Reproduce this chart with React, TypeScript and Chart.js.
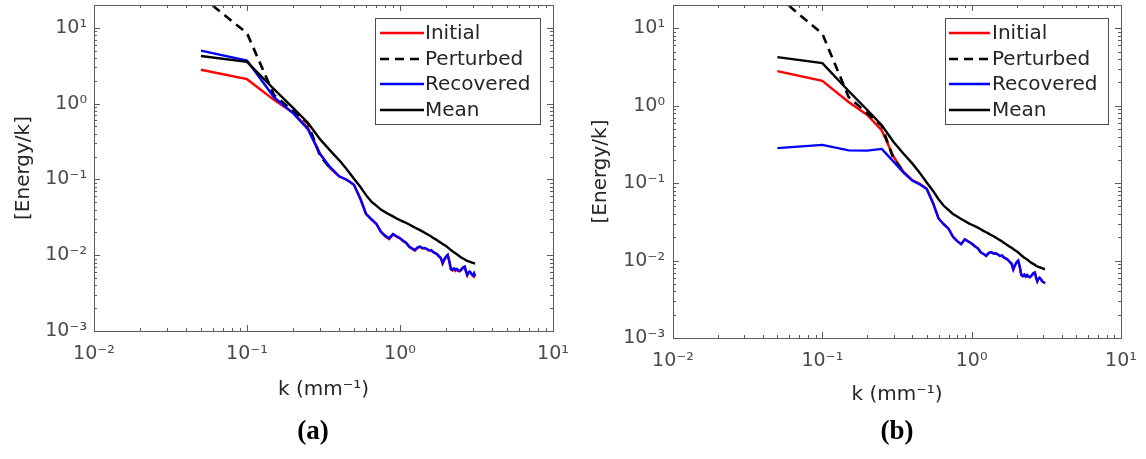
import React, { useEffect, useRef } from 'react';
import { Chart, registerables } from 'chart.js';

Chart.register(...registerables);

// ---------- data ----------
const kValues = [
  0.05, 0.1, 0.15, 0.2, 0.25, 0.3, 0.35, 0.4, 0.45, 0.5,
  0.55, 0.6, 0.65, 0.7, 0.75, 0.8, 0.85, 0.9, 0.95, 1.0,
  1.05, 1.1, 1.15, 1.2, 1.25, 1.3, 1.35, 1.4, 1.45, 1.5,
  1.55, 1.6, 1.65, 1.7, 1.75, 1.8, 1.85, 1.9, 1.95, 2.0,
  2.05, 2.1, 2.15, 2.2, 2.25, 2.3, 2.35, 2.4, 2.45, 2.5,
  2.55, 2.6, 2.65, 2.7, 2.75, 2.8, 2.85, 2.9, 2.95, 3.0,
  3.05, 3.1,
];

const initialValues = [
  2.8, 2.1, 1.12, 0.76, 0.48, 0.22, 0.14, 0.11, 0.098, 0.085,
  0.056, 0.035, 0.0295, 0.0258, 0.0203, 0.0178, 0.0163, 0.0188, 0.0176, 0.0166,
  0.0153, 0.0144, 0.0128, 0.0122, 0.0115, 0.0125, 0.0129, 0.0123, 0.0124, 0.012,
  0.0115, 0.0116, 0.0109, 0.0106, 0.0102, 0.0096, 0.0091, 0.0077, 0.0087, 0.0095,
  0.01, 0.0083, 0.0065, 0.0063, 0.0066, 0.0062, 0.0065, 0.0062, 0.0061, 0.0063,
  0.0066, 0.0069, 0.007, 0.006, 0.0054, 0.0058, 0.006, 0.0058, 0.0055, 0.0053,
  0.0052, 0.0051,
];

const perturbedValues = [
  26, 8.5, 1.3, 0.8, 0.55, 0.205, 0.14, null, null, null,
  null, null, null, null, null, null, null, null, null, null,
  null, null, null, null, null, null, null, null, null, null,
  null, null, null, null, null, null, null, null, null, null,
  null, null, null, null, null, null, null, null, null, null,
  null, null, null, null, null, null, null, null, null, null,
  null, null,
];

const recoveredValuesA = [
  5.0, 3.7, 1.22, 0.75, 0.46, 0.215, 0.145, 0.11, 0.099, 0.085,
  0.056, 0.035, 0.03, 0.026, 0.0205, 0.018, 0.0168, 0.019, 0.0178, 0.0168,
  0.0155, 0.0145, 0.013, 0.0123, 0.0117, 0.0126, 0.013, 0.0124, 0.0125, 0.0121,
  0.0116, 0.0117, 0.011, 0.0107, 0.0103, 0.0097, 0.0092, 0.0079, 0.0088, 0.0096,
  0.0101, 0.0084, 0.0066, 0.0064, 0.0067, 0.0065, 0.0066, 0.0063, 0.0062, 0.0064,
  0.0067, 0.007, 0.0071, 0.0061, 0.0055, 0.0059, 0.0061, 0.0059, 0.0056, 0.0054,
  0.0058, 0.0053,
];

const recoveredValuesB = [
  0.283, 0.312, 0.265, 0.263, 0.277, 0.19, 0.137, 0.108, 0.096, 0.084,
  0.056, 0.035, 0.0295, 0.0258, 0.0203, 0.0178, 0.0163, 0.0188, 0.0176, 0.0166,
  0.0153, 0.0144, 0.0128, 0.0122, 0.0115, 0.0125, 0.0129, 0.0123, 0.0124, 0.012,
  0.0115, 0.0116, 0.0109, 0.0106, 0.0102, 0.0096, 0.0091, 0.0077, 0.0087, 0.0095,
  0.01, 0.0083, 0.0065, 0.0063, 0.0066, 0.0062, 0.0065, 0.0062, 0.0061, 0.0063,
  0.0066, 0.0069, 0.007, 0.006, 0.0054, 0.0058, 0.006, 0.0058, 0.0055, 0.0053,
  0.0052, 0.0051,
];

const meanValues = [
  4.25, 3.55, 1.55, 0.88, 0.56, 0.34, 0.24, 0.18, 0.135, 0.102,
  0.08, 0.062, 0.051, 0.045, 0.04, 0.037, 0.0345, 0.0325, 0.0305, 0.029,
  0.0278, 0.0266, 0.0254, 0.0242, 0.0232, 0.0223, 0.0214, 0.0206, 0.0198, 0.019,
  0.0183, 0.0176, 0.0169, 0.0163, 0.0157, 0.0151, 0.0146, 0.0141, 0.0136, 0.0132,
  0.0127, 0.0122, 0.0117, 0.0113, 0.0109, 0.0106, 0.0103, 0.01, 0.0097, 0.0094,
  0.0092, 0.009, 0.0088, 0.0086, 0.0084, 0.0083, 0.0082, 0.0081, 0.008, 0.0079,
  0.0078, 0.0078,
];

const xTickValues = [0.01, 0.1, 1, 10];
const xTickLabels = ['10⁻²', '10⁻¹', '10⁰', '10¹'];
const yTickValues = [0.001, 0.01, 0.1, 1, 10];
const yTickLabels = ['10⁻³', '10⁻²', '10⁻¹', '10⁰', '10¹'];
const legendLabels = ['Initial', 'Perturbed', 'Recovered', 'Mean'];
const xAxisTitle = 'k (mm⁻¹)';
const yAxisTitle = '[Energy/k]';
const panelLabels = ['(a)', '(b)'];

// ---------- styles ----------
const W = 573;
const H = 459;
const FONT = '"DejaVu Sans", sans-serif';
const TICK_COLOR = '#4a4a4a';
const TEXT_COLOR = '#262626';
const FRAME_COLOR = '#5c5c5c';
const legendColors = ['#ff0000', '#000000', '#0000ff', '#000000'];
const legendDashes = [[], [9, 6], [], []];

type PanelProps = {
  left: number;
  recovered: number[];
  area: { left: number; right: number; top: number; bottom: number };
  legendBox: { x: number; y: number; w: number; h: number; lineX0: number; lineX1: number; textX: number; rows: number[] };
  label: string;
  labelX: number;
  yTitlePad: number;
  xTitlePad: number;
  yTickPad: number;
  xTickPad: number;
};

function toPoints(vals: (number | null)[]) {
  return kValues.map((k, i) => ({ x: k, y: vals[i] }));
}

function Panel(props: PanelProps) {
  const ref = useRef<HTMLCanvasElement | null>(null);
  useEffect(() => {
    const canvas = ref.current;
    if (!canvas) return;
    const { area, legendBox } = props;

    const framePlugin = {
      id: 'frameTicks',
      afterDatasetsDraw(chart: any) {
        const ctx = chart.ctx as CanvasRenderingContext2D;
        const { left, right, top, bottom } = chart.chartArea;
        const xs = chart.scales.x;
        const ys = chart.scales.y;
        ctx.save();
        ctx.strokeStyle = FRAME_COLOR;
        ctx.lineWidth = 1;
        ctx.beginPath();
        for (let d = -2; d <= 0; d++) {
          for (let m = 1; m <= 9; m++) {
            const v = m * Math.pow(10, d);
            const px = Math.round(xs.getPixelForValue(v)) + 0.5;
            const len = m === 1 ? 6 : 3;
            ctx.moveTo(px, bottom);
            ctx.lineTo(px, bottom - len);
            ctx.moveTo(px, top);
            ctx.lineTo(px, top + len);
          }
        }
        for (let d = -3; d <= 1; d++) {
          for (let m = 1; m <= 9; m++) {
            const v = m * Math.pow(10, d);
            if (v > 20) continue;
            const py = Math.round(ys.getPixelForValue(v)) + 0.5;
            const len = m === 1 ? 6 : 3;
            ctx.moveTo(left, py);
            ctx.lineTo(left + len, py);
            ctx.moveTo(right, py);
            ctx.lineTo(right - len, py);
          }
        }
        ctx.stroke();
        ctx.strokeRect(Math.round(left) + 0.5, Math.round(top) + 0.5, Math.round(right - left), Math.round(bottom - top));

        // legend
        const lb = legendBox;
        ctx.fillStyle = '#ffffff';
        ctx.fillRect(lb.x, lb.y, lb.w, lb.h);
        ctx.strokeStyle = '#4d4d4d';
        ctx.lineWidth = 1;
        ctx.strokeRect(lb.x + 0.5, lb.y + 0.5, lb.w, lb.h);
        ctx.font = `20px ${FONT}`;
        ctx.textBaseline = 'middle';
        ctx.textAlign = 'left';
        legendLabels.forEach((name, i) => {
          const y = lb.rows[i];
          ctx.beginPath();
          ctx.strokeStyle = legendColors[i];
          ctx.lineWidth = 2.5;
          ctx.setLineDash(legendDashes[i]);
          ctx.moveTo(lb.lineX0, y);
          ctx.lineTo(lb.lineX1, y);
          ctx.stroke();
          ctx.setLineDash([]);
          ctx.fillStyle = TEXT_COLOR;
          ctx.fillText(name, lb.textX, y + 1);
        });

        // panel label
        ctx.font = `bold 27px "Liberation Serif", "Times New Roman", serif`;
        ctx.fillStyle = '#000000';
        ctx.textAlign = 'center';
        ctx.textBaseline = 'middle';
        ctx.fillText(props.label, props.labelX, 432);
        ctx.restore();
      },
    };

    const chart = new Chart(canvas, {
      type: 'line',
      data: {
        datasets: [
          { label: 'Mean', data: toPoints(meanValues), borderColor: '#000000', borderWidth: 2.4, pointRadius: 0, tension: 0 },
          { label: 'Recovered', data: toPoints(props.recovered), borderColor: '#0000ff', borderWidth: 2.4, pointRadius: 0, tension: 0 },
          { label: 'Perturbed', data: toPoints(perturbedValues), borderColor: '#000000', borderWidth: 2.6, borderDash: [9, 6], pointRadius: 0, tension: 0 },
          { label: 'Initial', data: toPoints(initialValues), borderColor: '#ff0000', borderWidth: 2.4, pointRadius: 0, tension: 0 },
        ],
      } as any,
      options: {
        responsive: false,
        animation: false,
        devicePixelRatio: 1,
        events: [],
        layout: { padding: { left: 0, top: area.top, right: W - area.right, bottom: 0 } },
        plugins: { legend: { display: false }, tooltip: { enabled: false } },
        scales: {
          x: {
            type: 'logarithmic',
            position: 'bottom',
            min: 0.01,
            max: 10,
            grid: { display: false, drawTicks: false },
            border: { display: false },
            ticks: {
              autoSkip: false,
              maxRotation: 0,
              padding: props.xTickPad,
              color: TICK_COLOR,
              font: { family: FONT, size: 19 },
              callback: (_v: any, i: number) => xTickLabels[i],
            },
            title: {
              display: true,
              text: xAxisTitle,
              color: TEXT_COLOR,
              font: { family: FONT, size: 20 },
              padding: { top: 0, bottom: props.xTitlePad },
            },
            afterBuildTicks: (s: any) => {
              s.ticks = xTickValues.map((v) => ({ value: v }));
            },
            afterFit: (s: any) => {
              s.height = H - area.bottom;
              s.paddingLeft = 0;
              s.paddingRight = 0;
            },
          },
          y: {
            type: 'logarithmic',
            position: 'left',
            min: 0.001,
            max: 20,
            grid: { display: false, drawTicks: false },
            border: { display: false },
            ticks: {
              autoSkip: false,
              padding: props.yTickPad,
              color: TICK_COLOR,
              font: { family: FONT, size: 19 },
              callback: (_v: any, i: number) => yTickLabels[i],
            },
            title: {
              display: true,
              text: yAxisTitle,
              color: TEXT_COLOR,
              font: { family: FONT, size: 20 },
              padding: { top: props.yTitlePad, bottom: 0 },
            },
            afterBuildTicks: (s: any) => {
              s.ticks = yTickValues.map((v) => ({ value: v }));
            },
            afterFit: (s: any) => {
              s.width = area.left;
              s.paddingTop = 0;
              s.paddingBottom = 0;
            },
          },
        },
      } as any,
      plugins: [framePlugin],
    });
    return () => chart.destroy();
  }, []);

  return (
    <canvas
      ref={ref}
      width={W}
      height={H}
      style={{ position: 'absolute', left: props.left, top: 0, width: W, height: H }}
    />
  );
}

export default function App() {
  return (
    <div style={{ position: 'absolute', left: 0, top: 0, width: 1146, height: 459, background: '#ffffff', overflow: 'hidden' }}>
      <Panel
        left={0}
        recovered={recoveredValuesA}
        area={{ left: 94, right: 553, top: 5, bottom: 331 }}
        legendBox={{ x: 375, y: 18, w: 165, h: 106, lineX0: 380, lineX1: 424, textX: 425, rows: [33, 59, 84, 110] }}
        label={panelLabels[0]}
        labelX={313}
        yTitlePad={12}
        xTitlePad={57}
        yTickPad={7}
        xTickPad={12}
      />
      <Panel
        left={573}
        recovered={recoveredValuesB}
        area={{ left: 100, right: 548, top: 5, bottom: 338 }}
        legendBox={{ x: 372, y: 18, w: 163, h: 106, lineX0: 376, lineX1: 417, textX: 419, rows: [33, 59, 84, 110] }}
        label={panelLabels[1]}
        labelX={324}
        yTitlePad={16}
        xTitlePad={52}
        yTickPad={8}
        xTickPad={12}
      />
    </div>
  );
}
